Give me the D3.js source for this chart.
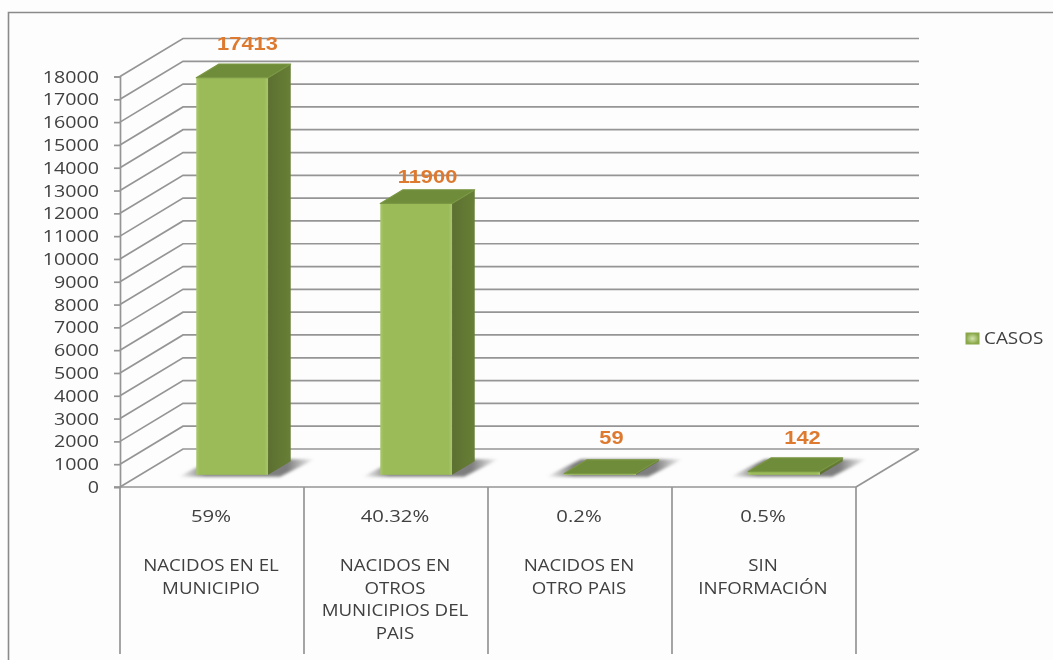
<!DOCTYPE html>
<html>
<head>
<meta charset="utf-8">
<script src="https://d3js.org/d3.v7.min.js"></script>
<style>
  html, body { margin: 0; padding: 0; background: #fff; }
  svg { display: block; filter: blur(0.55px); }
</style>
</head>
<body>
<svg id="chart" width="1053" height="660"></svg>
<script>
// data
const categories = ["NACIDOS EN EL MUNICIPIO", "NACIDOS EN OTROS MUNICIPIOS DEL PAIS", "NACIDOS EN OTRO PAIS", "SIN INFORMACIÓN"];
const categoryLines = [
    ["NACIDOS EN EL", "MUNICIPIO"],
    ["NACIDOS EN", "OTROS", "MUNICIPIOS DEL", "PAIS"],
    ["NACIDOS EN", "OTRO PAIS"],
    ["SIN", "INFORMACIÓN"]
];
const percents = ["59%", "40.32%", "0.2%", "0.5%"];
const casos = [17413, 11900, 59, 142];
const yTicks = d3.range(0, 19000, 1000);
const seriesName = "CASOS";

// layout
let svg = d3.select("#chart");
let depthX = 63, depthY = 38;        // floor depth of the fake 3d box
let barFront = 0.32, barBack = 0.68; // where the bar sits in that depth
let labelGap = [14, 7, 16, 14];      // the labels were moved by hand in the original
let labelShift = [4, 0, 0, 7];

let xScale = d3.scaleBand().domain(categories).range([120, 856]);
let yScale = d3.scaleLinear().domain([0, 18000]).range([487, 76.5]);
let barWidth = xScale.bandwidth() * 0.39;

let lineColor = "#959595";

let defs = svg.append("defs");
let grad = defs.append("linearGradient").attr("id", "front");
grad.append("stop").attr("offset", "0").attr("stop-color", "#a9c76a");
grad.append("stop").attr("offset", "0.05").attr("stop-color", "#9bbb59");
grad.append("stop").attr("offset", "0.95").attr("stop-color", "#9bbb59");
grad.append("stop").attr("offset", "1").attr("stop-color", "#a9c76a");
let side = defs.append("linearGradient").attr("id", "side");
side.append("stop").attr("offset", "0").attr("stop-color", "#5c7030");
side.append("stop").attr("offset", "1").attr("stop-color", "#677f36");
let shade = defs.append("linearGradient").attr("id", "shade");
shade.append("stop").attr("offset", "0").attr("stop-color", "#777").attr("stop-opacity", 0);
shade.append("stop").attr("offset", "0.2").attr("stop-color", "#777").attr("stop-opacity", 0.95);
shade.append("stop").attr("offset", "0.8").attr("stop-color", "#777").attr("stop-opacity", 0.95);
shade.append("stop").attr("offset", "1").attr("stop-color", "#777").attr("stop-opacity", 0);
let swatch = defs.append("radialGradient").attr("id", "swatch");
swatch.append("stop").attr("offset", "0").attr("stop-color", "#d3e4ae");
swatch.append("stop").attr("offset", "1").attr("stop-color", "#8aa84a");
defs.append("filter").attr("id", "soft")
    .attr("x", "-30%").attr("y", "-60%").attr("width", "160%").attr("height", "220%")
    .append("feGaussianBlur").attr("stdDeviation", 1.6);

// page and frame
svg.append("rect").attr("width", 1053).attr("height", 660).attr("fill", "#fdfdfd");
svg.append("path")
    .attr("d", "M8.5,660V12.5H1053")
    .attr("fill", "none").attr("stroke", "#8a8a8a").attr("stroke-width", 1.6);

// back wall and side wall lines
let walls = svg.append("g").attr("stroke", lineColor).attr("stroke-width", 1.7).attr("fill", "none");
walls.selectAll(".grid").data(yTicks).enter().append("path")
    .attr("d", d => "M120," + yScale(d) + "L" + (120 + depthX) + "," + (yScale(d) - depthY) + "H" + (856 + depthX));
// floor edge on the right
walls.append("path")
    .attr("d", "M" + (856 + depthX) + "," + (yScale(0) - depthY) + "L856," + yScale(0));

function barPoints(d, i) {
    let x0 = xScale(d) + (xScale.bandwidth() - barWidth) / 2 + depthX * barFront;
    let y0 = yScale(0) - depthY * barFront;
    let h = yScale(0) - yScale(casos[i]);
    return { x0: x0, x1: x0 + barWidth, y0: y0, yt: y0 - h, dx: depthX * (barBack - barFront), dy: depthY * (barBack - barFront) };
}

// floor shadows
svg.append("g").selectAll("path").data(categories).enter().append("path")
    .attr("filter", "url(#soft)")
    .attr("fill", "url(#shade)")
    .attr("d", (d, i) => {
        let p = barPoints(d, i);
        return "M" + (p.x0 - 18) + "," + (p.y0 + 2) + "H" + (p.x1 + 12) + "L" + (p.x1 + p.dx + 24) + "," + (p.y0 - p.dy - 2) + "H" + (p.x0 + p.dx - 6) + "Z";
    });

// bars
let bars = svg.append("g").selectAll("g").data(categories).enter().append("g");
bars.append("rect")
    .attr("x", (d, i) => barPoints(d, i).x0)
    .attr("y", (d, i) => barPoints(d, i).yt)
    .attr("width", barWidth)
    .attr("height", (d, i) => yScale(0) - yScale(casos[i]))
    .attr("fill", "url(#front)");
bars.append("path")
    .attr("fill", "url(#side)")
    .attr("d", (d, i) => {
        let p = barPoints(d, i);
        return "M" + p.x1 + "," + p.yt + "l" + p.dx + "," + (-p.dy) + "V" + (p.y0 - p.dy) + "L" + p.x1 + "," + p.y0 + "Z";
    });
bars.append("path")
    .attr("fill", "#6f8c3a")
    .attr("stroke", "#7a9743")
    .attr("stroke-width", 1.2)
    .attr("stroke-linejoin", "round")
    .attr("d", (d, i) => {
        let p = barPoints(d, i);
        return "M" + p.x0 + "," + p.yt + "l" + p.dx + "," + (-p.dy) + "H" + (p.x1 + p.dx) + "L" + p.x1 + "," + p.yt + "Z";
    });

// value labels
svg.append("g").selectAll("text").data(categories).enter().append("text")
    .attr("transform", (d, i) => {
        let p = barPoints(d, i);
        let cx = (p.x0 + p.x1 + p.dx) / 2 + labelShift[i];
        return "translate(" + cx + "," + (p.yt - p.dy - labelGap[i]) + ") scale(1.25,1)";
    })
    .attr("text-anchor", "middle")
    .attr("font-family", "Liberation Sans")
    .attr("font-weight", "bold")
    .attr("font-size", 17.5)
    .attr("fill", "#dd7a30")
    .text((d, i) => casos[i]);

// y axis, front edge
let yAxis = d3.axisLeft(yScale).tickValues(yTicks).tickSize(6).tickPadding(15).tickFormat(d3.format("d"));
let yG = svg.append("g").attr("transform", "translate(120,0)").call(yAxis);
yG.select(".domain").attr("stroke", lineColor).attr("stroke-width", 1.7);
yG.selectAll(".tick line").attr("stroke", lineColor).attr("stroke-width", 1.7);
yG.selectAll(".tick text")
    .attr("font-family", "Open Sans")
    .attr("font-size", 15.5)
    .attr("fill", "#404040")
    .attr("dy", "0.36em")
    .attr("transform", "translate(-21,0) scale(1.27,1)")
    .attr("x", 0);

// table below the floor
let table = svg.append("g").attr("stroke", lineColor).attr("stroke-width", 1.7);
table.append("line").attr("x1", 114).attr("x2", 856).attr("y1", yScale(0)).attr("y2", yScale(0));
table.selectAll(".sep").data(categories.concat(["end"])).enter().append("line")
    .attr("x1", (d, i) => i < 4 ? xScale(d) : xScale.range()[1])
    .attr("x2", (d, i) => i < 4 ? xScale(d) : xScale.range()[1])
    .attr("y1", yScale(0))
    .attr("y2", 654);

function tableText(sel) {
    sel.attr("text-anchor", "middle")
        .attr("font-family", "Open Sans")
        .attr("font-size", 16)
        .attr("fill", "#404040");
}
svg.append("g").selectAll("text").data(categories).enter().append("text")
    .call(tableText)
    .attr("transform", d => "translate(" + (xScale(d) + xScale.bandwidth() / 2 - 1) + ",522) scale(1.27,1)")
    .text((d, i) => percents[i]);
let lineGroups = svg.append("g").selectAll("g").data(categories).enter().append("g")
    .attr("transform", d => "translate(" + (xScale(d) + xScale.bandwidth() / 2 - 1) + ",0)");
lineGroups.selectAll("text").data((d, i) => categoryLines[i]).enter().append("text")
    .call(tableText)
    .attr("transform", (t, j) => "translate(0," + (571 + j * 22.7) + ") scale(1.17,1)")
    .text(t => t);

// legend
svg.append("rect").attr("x", 966).attr("y", 333).attr("width", 13).attr("height", 11)
    .attr("fill", "url(#swatch)").attr("stroke", "#8aa84a");
svg.append("text")
    .attr("transform", "translate(984,344) scale(1.22,1)")
    .attr("font-family", "Open Sans")
    .attr("font-size", 15.5)
    .attr("fill", "#404040")
    .text(seriesName);
</script>
</body>
</html>
